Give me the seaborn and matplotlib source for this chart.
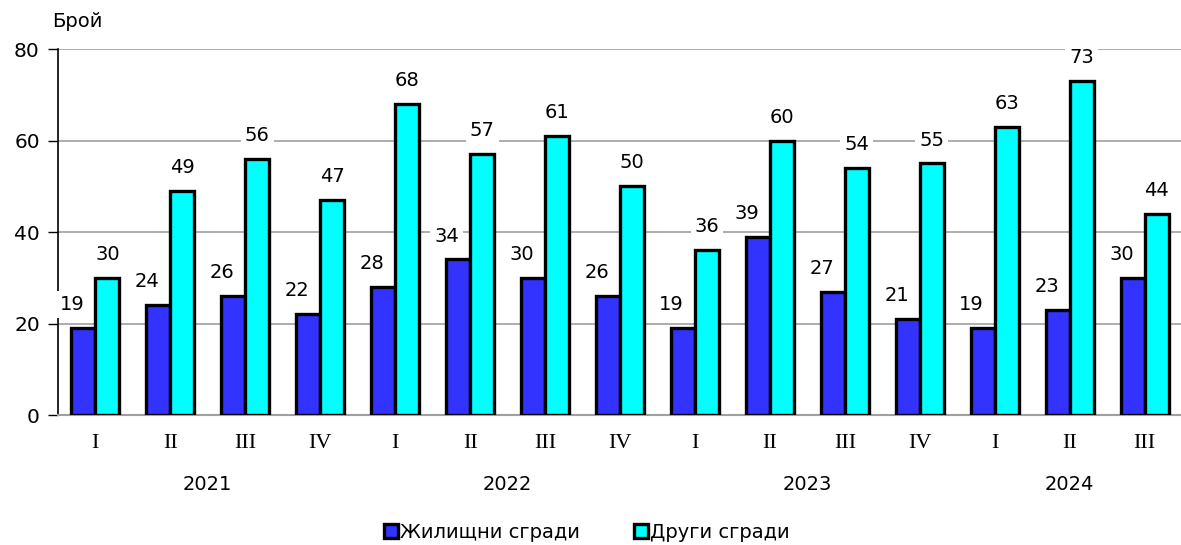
import pandas as pd
import matplotlib
matplotlib.use('Agg')
import matplotlib.pyplot as plt
import seaborn as sns

# Данни по тримесечия
quarters = ['I', 'II', 'III', 'IV', 'I', 'II', 'III', 'IV',
            'I', 'II', 'III', 'IV', 'I', 'II', 'III']
years = ['2021', '2022', '2023', '2024']
year_spans = [4, 4, 4, 3]
residential = [19, 24, 26, 22, 28, 34, 30, 26, 19, 39, 27, 21, 19, 23, 30]
other = [30, 49, 56, 47, 68, 57, 61, 50, 36, 60, 54, 55, 63, 73, 44]
series_names = ['Жилищни сгради', 'Други сгради']
colors = ['#3333FF', '#00FFFF']

n = len(quarters)
df = pd.DataFrame({
    'idx': list(range(n)) * 2,
    'value': residential + other,
    'series': [series_names[0]] * n + [series_names[1]] * n,
})

sns.set_style('white')
plt.rcParams['font.family'] = ['DejaVu Sans']
plt.rcParams['text.color'] = 'black'
plt.rcParams['xtick.color'] = 'black'
plt.rcParams['ytick.color'] = 'black'

fig = plt.figure(figsize=(11.81, 5.45), dpi=100)
ax = fig.add_axes([0.049, 0.2385, 0.952, 0.6715])

sns.barplot(data=df, x='idx', y='value', hue='series', palette=colors,
            saturation=1, edgecolor='black', linewidth=2.4, width=0.64,
            gap=0, ax=ax, zorder=3)

ax.set_ylim(0, 80)
ax.set_xlim(-0.5, n - 0.5)
ax.set_yticks([0, 20, 40, 60, 80])
ax.tick_params(axis='y', labelsize=14.5, length=7, width=1, color='black',
               direction='out', left=True, pad=6)
ax.yaxis.grid(True, color='#a0a0a0', linewidth=1.2, zorder=0)
ax.set_axisbelow(True)
for s in ['top', 'right']:
    ax.spines[s].set_visible(False)
ax.spines['left'].set_color('black')
ax.spines['left'].set_linewidth(1.2)
ax.spines['bottom'].set_color('#a0a0a0')
ax.spines['bottom'].set_linewidth(1.5)

ax.set_xticks(range(n))
ax.set_xticklabels(quarters, fontsize=16, family=['Liberation Serif'])
ax.tick_params(axis='x', length=0, pad=14)
ax.set_xlabel('')
ax.set_ylabel('')

# Години под тримесечията
start = 0
for y, span in zip(years, year_spans):
    xc = start + (span - 1) / 2
    ax.text(xc, -0.19, y, transform=ax.get_xaxis_transform(),
            ha='center', va='center', fontsize=14)
    start += span

fig.text(0.044, 0.96, 'Брой', fontsize=14, ha='left', va='center')

# Етикети на стойностите
box = dict(facecolor='white', edgecolor='none', pad=3)
for k, cont in enumerate(ax.containers):
    for bar in cont:
        h = bar.get_height()
        xc = bar.get_x() + bar.get_width() / 2
        dx = -0.15 if k == 0 else 0.0
        ax.annotate(f'{h:.0f}', (xc + dx, h), xytext=(0, 10),
                    textcoords='offset points', ha='center', va='bottom',
                    fontsize=14, bbox=box, zorder=5)

handles, labels = ax.get_legend_handles_labels()
ax.get_legend().remove()
fig.legend(handles, labels, loc='center', bbox_to_anchor=(0.497, 0.023),
           ncol=2, frameon=False, fontsize=14, handlelength=0.7,
           handleheight=0.7, handletextpad=0.1, columnspacing=2.8)

fig.savefig('out.png', dpi=100)
